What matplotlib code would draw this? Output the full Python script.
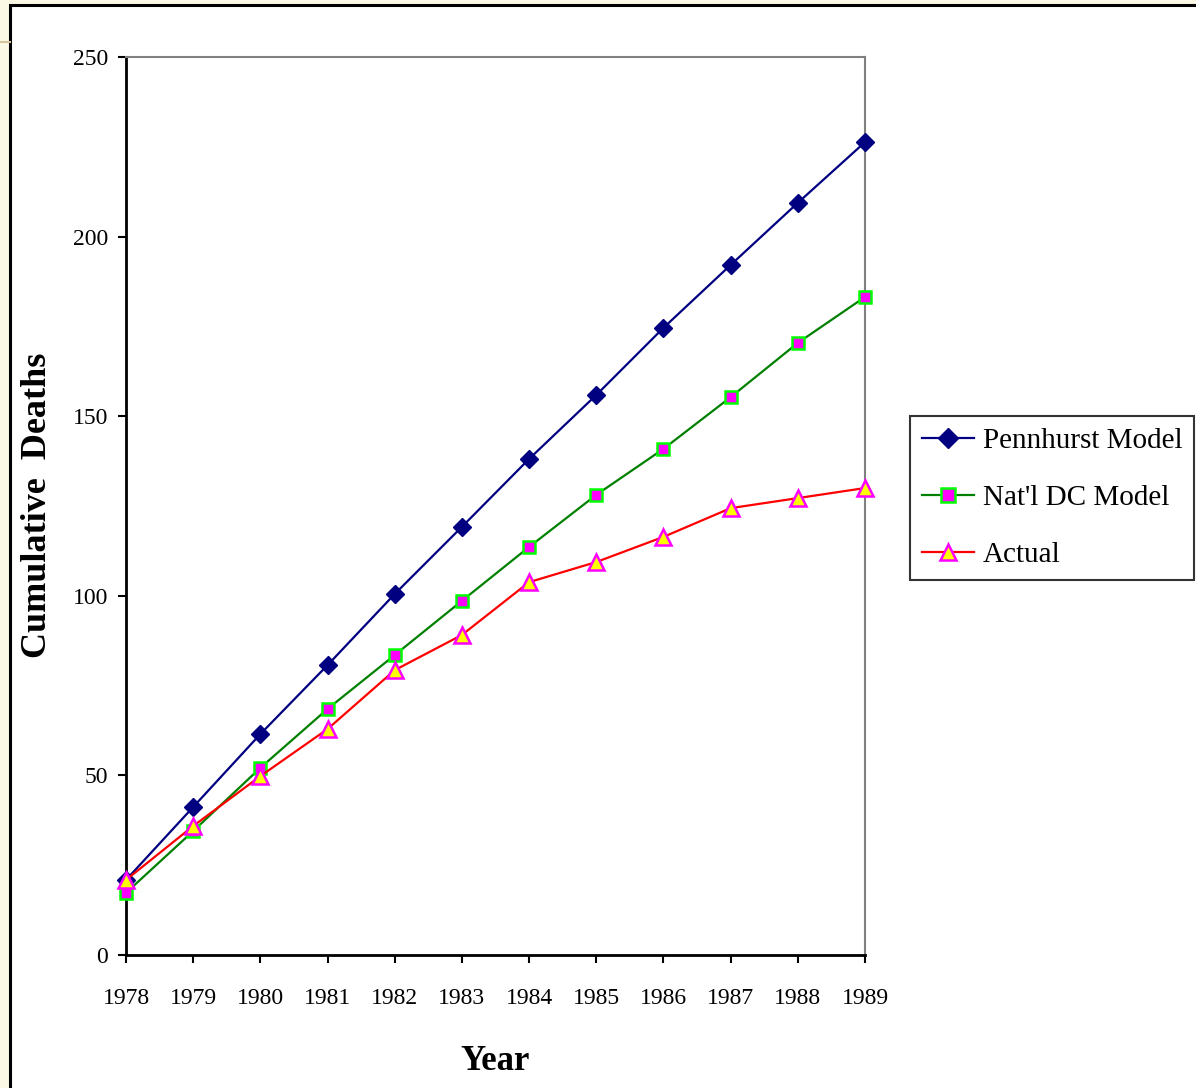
import matplotlib
matplotlib.use('Agg')
import matplotlib.pyplot as plt
from matplotlib.patches import Rectangle
from matplotlib.lines import Line2D

years = [1978, 1979, 1980, 1981, 1982, 1983, 1984, 1985, 1986, 1987, 1988, 1989]
pennhurst = [20.9, 41.2, 61.5, 80.7, 100.5, 119.2, 138.1, 155.9, 174.6, 192.1, 209.4, 226.3]
natl_dc = [17.3, 34.5, 52.1, 68.5, 83.5, 98.6, 113.6, 128.1, 140.9, 155.3, 170.4, 183.2]
actual = [20.9, 35.9, 49.8, 62.9, 79.3, 89.1, 103.8, 109.4, 116.4, 124.4, 127.2, 130.0]
y_ticks = [0, 50, 100, 150, 200, 250]

plt.rcParams['font.family'] = ['Liberation Serif', 'DejaVu Serif']

fig = plt.figure(figsize=(11.96, 10.88), dpi=100)
fig.patch.set_facecolor('#FBF9E5')

# white panel with black frame (runs off the right and bottom)
fig.patches.append(Rectangle((10 / 1196, -0.05), 1.1, 0.05 + 1 - 5 / 1088,
                             transform=fig.transFigure, facecolor='white',
                             edgecolor='black', linewidth=2.2, zorder=-5))
fig.add_artist(Line2D([0, 10 / 1196], [1 - 42 / 1088, 1 - 42 / 1088],
                      transform=fig.transFigure, color='#D5C49C', linewidth=1.5))

ax = fig.add_axes([126 / 1196, 1 - 955 / 1088, (865 - 126) / 1196, (955 - 57) / 1088])
ax.set_facecolor('white')

ax.plot(years, pennhurst, color='#000080', linewidth=1.6, marker='D', markersize=9,
        markerfacecolor='#000080', markeredgecolor='#000080', label='Pennhurst Model',
        clip_on=False, zorder=3)
ax.plot(years, natl_dc, color='#008000', linewidth=1.6, marker='s', markersize=9,
        markerfacecolor='#FF00FF', markeredgecolor='#00FF00', markeredgewidth=1.8,
        label="Nat'l DC Model", clip_on=False, zorder=4)
ax.plot(years, actual, color='#FF0000', linewidth=1.6, marker='^', markersize=11,
        markerfacecolor='#FFFF00', markeredgecolor='#FF00FF', markeredgewidth=1.8,
        label='Actual', clip_on=False, zorder=5)

ax.set_xlim(1978, 1989)
ax.set_ylim(0, 250)
ax.set_xticks(years)
ax.set_yticks(y_ticks)
ax.tick_params(axis='both', direction='out', length=6, width=1.5, labelsize=17)
ax.tick_params(axis='x', pad=18)
ax.tick_params(axis='y', pad=7)

for side in ['left', 'bottom']:
    ax.spines[side].set_color('black')
    ax.spines[side].set_linewidth(2)
for side in ['top', 'right']:
    ax.spines[side].set_color('#808080')
    ax.spines[side].set_linewidth(1.5)

ax.set_xlabel('Year', fontsize=25, fontweight='bold', labelpad=26)
fig.text(38 / 1196, 1 - 505 / 1088, 'Cumulative  Deaths', rotation=90, fontsize=26,
         fontweight='bold', ha='center', va='center')

leg = fig.legend(loc='center', bbox_to_anchor=(1052 / 1196, 1 - 498 / 1088),
                 bbox_transform=fig.transFigure, fontsize=21, frameon=True,
                 fancybox=False, edgecolor='black', handlelength=1.8,
                 labelspacing=1.05, borderpad=0.4, handletextpad=0.3,
                 borderaxespad=0, markerscale=1.1)
leg.get_frame().set_linewidth(1.5)

fig.savefig('out.png', dpi=100, facecolor=fig.get_facecolor())
